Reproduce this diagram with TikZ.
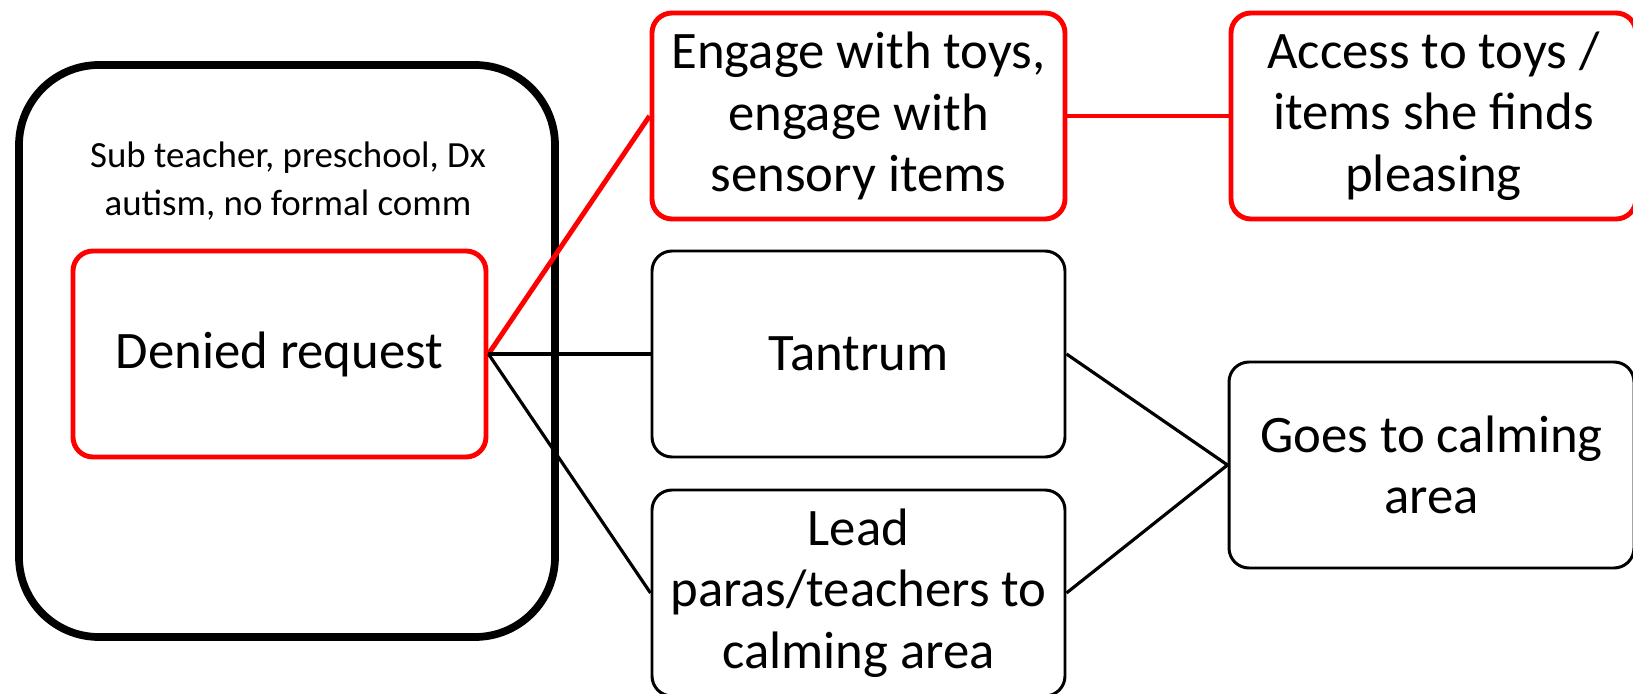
\documentclass[tikz,border=0pt]{standalone}
\usepackage{fontspec}
\setmainfont{Carlito}
\usepackage{tikz}
\usetikzlibrary{calc}
\tikzset{card/.style = {rectangle, rounded corners=4mm, draw=black, line width=1.7pt,
                           fill=white, minimum width=82.6mm, minimum height=41.2mm,
                           align=center, font=\fontsize{30}{35}\selectfont}}
\begin{document}
\begin{tikzpicture}[hot/.style = {draw=red, line width=2.8pt}, link/.style = {line width=1.8pt}]
\useasboundingbox (-55.9mm,70.8mm) rectangle ++(326.6mm,-138.8mm);
\node[draw, rounded corners=16mm, line width=4.4pt, minimum width=107.2mm, minimum height=114.4mm] (ctx) at (1.5mm,0.6mm) {};
\node[align=center, font=\fontsize{21}{27}\selectfont] (note) at (1.7mm,34.6mm) {Sub teacher, preschool, Dx\\autism, no formal comm};
\node[card, hot] (den) at (0,0) {Denied request};
\node[card] (tan) [right of=den, node distance=115.8mm] {Tantrum};
\node[card, hot] (eng) [above of=tan, node distance=47.6mm] {Engage with toys,\\engage with\\sensory items};
\node[card] (lead) [below of=tan, node distance=47.8mm] {Lead\\paras/teachers to\\calming area};
\node[card, hot, minimum width=81mm] (acc) [right of=eng, node distance=115mm] {Access to toys /\\items she finds\\pleasing};
\node[card, minimum width=81mm] (goes) [right of=tan, node distance=114.6mm, yshift=-22.2mm] {Goes to calming\\area};
\draw[hot] (den.east) -- (eng.west);
\draw[hot] (eng.east) -- (acc.west);
\draw[link] (den.east) -- (tan.west);
\draw[link] (den.east) -- (lead.west);
\draw[link] (tan.east) -- (goes.west);
\draw[link] (lead.east) -- (goes.west);
\end{tikzpicture}
\end{document}
